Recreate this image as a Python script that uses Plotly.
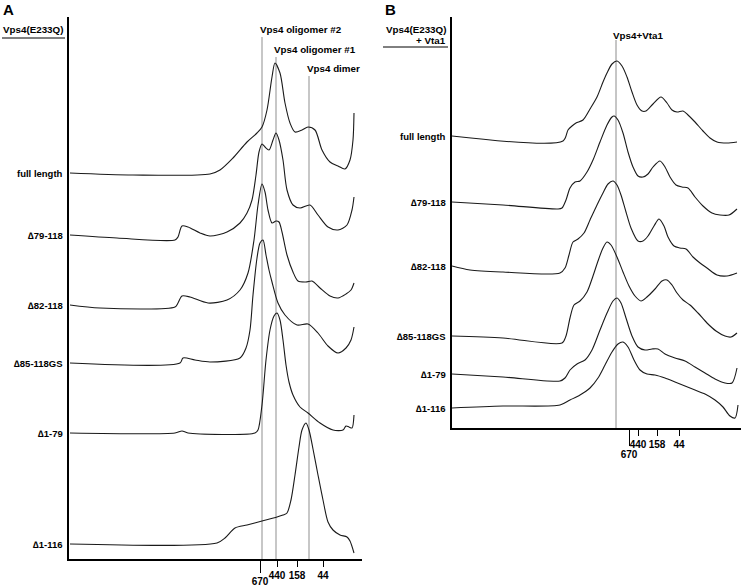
import plotly.graph_objects as go

W, H = 745, 587

# ---------------- Panel A : Vps4(E233Q) ----------------
labels_A = ["full length", "∆79-118", "∆82-118", "∆85-118GS", "∆1-79", "∆1-116"]
offsets_A = [386, 324, 254, 196, 126, 15]   # stacking offset of each trace (a.u.)

vol_A_full = [70, 133, 210, 220, 233, 247, 257, 262, 267, 272, 275, 280, 285, 290, 295, 302, 308, 315, 322, 330, 338, 345, 350, 353, 354]
abs_A_full = [0, -2, -1, 3, 15, 31, 40, 46, 63, 96, 110, 100, 70, 50, 41, 43, 46, 43, 23, 11, 7, 4, 13, 33, 60]

vol_A_79 = [70, 117, 175, 178, 182, 188, 200, 210, 227, 240, 247, 252, 256, 259, 262, 265, 269, 273, 276, 279, 283, 287, 293, 300, 310, 318, 328, 338, 347, 352, 354]
abs_A_79 = [0, -3, -5, -2, 9, 8, 2, -1, 3, 12, 22, 35, 60, 83, 91, 88, 85, 95, 102, 95, 75, 45, 30, 27, 30, 20, 8, 5, 10, 25, 38]

vol_A_82 = [70, 100, 175, 178, 182, 190, 208, 227, 240, 248, 254, 258, 262, 265, 268, 272, 276, 279, 282, 287, 293, 298, 306, 312, 320, 330, 338, 346, 351, 354]
abs_A_82 = [0, -3, -2, 2, 9, 8, 2, 5, 15, 32, 65, 100, 121, 113, 95, 82, 84, 83, 73, 50, 33, 24, 23, 24, 17, 9, 7, 11, 15, 22]

vol_A_85 = [70, 180, 183, 195, 210, 240, 246, 250, 253, 257, 260, 263, 266, 269, 272, 278, 285, 297, 308, 318, 328, 338, 346, 351, 354]
abs_A_85 = [0, 0, 5, 3, 1, 5, 15, 33, 68, 105, 120, 123, 108, 93, 81, 60, 48, 38, 39, 30, 17, 10, 15, 23, 36]

vol_A_1_79 = [70, 175, 182, 188, 255, 258, 262, 266, 270, 274, 277, 280, 283, 286, 289, 293, 300, 308, 320, 333, 343, 346, 349, 352, 354]
abs_A_1_79 = [0, 0, 2, 0, 0, 3, 28, 73, 103, 117, 120, 113, 93, 68, 51, 38, 26, 20, 10, 3, 3, 7, 6, 5, 18]

vol_A_1_116 = [70, 217, 225, 235, 247, 262, 277, 283, 287, 291, 295, 299, 302, 306, 309, 313, 318, 323, 328, 333, 340, 347, 350, 354]
abs_A_1_116 = [0, 1, 6, 16, 19, 23, 27, 29, 31, 44, 69, 97, 114, 121, 114, 95, 69, 44, 22, 14, 9, 7, 3, -9]

traces_A = [(vol_A_full, abs_A_full), (vol_A_79, abs_A_79), (vol_A_82, abs_A_82),
            (vol_A_85, abs_A_85), (vol_A_1_79, abs_A_1_79), (vol_A_1_116, abs_A_1_116)]

std_pos_A = [260, 277, 297, 323]
std_lab = ["670", "440", "158", "44"]
peak_pos_A = [262, 276, 309]
peak_lab_A = ["Vps4 oligomer #2", "Vps4 oligomer #1", "Vps4 dimer"]
peak_top_A = [522, 502, 483]

# ---------------- Panel B : Vps4(E233Q) + Vta1 ----------------
labels_B = ["full length", "∆79-118", "∆82-118", "∆85-118GS", "∆1-79", "∆1-116"]
offsets_B = [292, 226, 162, 92, 54, 20]

vol_B_full = [452, 563, 568, 572, 576, 583, 590, 597, 603, 607, 612, 617, 622, 627, 632, 637, 642, 646, 653, 661, 667, 672, 677, 683, 688, 695, 703, 710, 717, 727, 737]
abs_B_full = [0, -5, 6, 10, 13, 16, 27, 39, 54, 63, 72, 75, 70, 59, 44, 31, 25, 25, 32, 39, 33, 26, 24, 25, 21, 14, 5, -2, -6, -7, -6]

vol_B_79 = [452, 503, 558, 562, 566, 570, 575, 580, 587, 593, 600, 607, 612, 614, 618, 623, 628, 633, 638, 643, 648, 653, 660, 665, 670, 676, 682, 688, 695, 703, 712, 720, 729, 737]
abs_B_79 = [0, -3, -7, -6, 2, 14, 20, 21, 30, 42, 60, 77, 85, 86, 82, 69, 50, 35, 26, 25, 28, 35, 41, 35, 25, 17, 15, 14, 5, -4, -11, -13, -13, -7]

vol_B_82 = [452, 470, 503, 560, 565, 569, 573, 578, 584, 590, 597, 603, 608, 613, 617, 621, 626, 631, 638, 643, 648, 654, 659, 664, 668, 674, 680, 686, 693, 700, 707, 717, 727, 737]
abs_B_82 = [0, -4, -6, -7, -2, 11, 24, 27, 33, 46, 61, 73, 82, 85, 81, 71, 54, 38, 25, 25, 30, 40, 47, 40, 29, 20, 18, 17, 9, 3, -2, -9, -10, -7]

vol_B_85 = [452, 503, 562, 566, 570, 574, 580, 587, 593, 598, 603, 607, 611, 617, 623, 629, 635, 641, 647, 655, 662, 667, 672, 677, 683, 690, 698, 707, 716, 725, 731, 737]
abs_B_85 = [0, -2, -7, 0, 18, 31, 35, 44, 60, 75, 88, 94, 91, 79, 64, 50, 40, 35, 39, 47, 55, 56, 51, 43, 36, 31, 23, 13, 5, 0, -1, 3]

vol_B_1_79 = [452, 503, 560, 565, 570, 577, 585, 592, 600, 607, 613, 617, 621, 626, 632, 638, 645, 652, 658, 665, 675, 685, 695, 705, 715, 725, 732, 737]
abs_B_1_79 = [0, -3, -7, -4, 4, 10, 14, 24, 44, 61, 73, 76, 71, 56, 38, 27, 24, 25, 25, 20, 16, 13, 7, 1, -5, -9, -9, 6]

vol_B_1_116 = [452, 503, 560, 570, 580, 590, 598, 605, 612, 618, 623, 628, 634, 640, 647, 655, 665, 675, 685, 695, 705, 715, 723, 730, 735, 738]
abs_B_1_116 = [0, 2, 3, 8, 13, 20, 30, 43, 56, 64, 66, 61, 48, 38, 34, 33, 30, 26, 22, 18, 14, 8, 1, -8, -10, 3]

traces_B = [(vol_B_full, abs_B_full), (vol_B_79, abs_B_79), (vol_B_82, abs_B_82),
            (vol_B_85, abs_B_85), (vol_B_1_79, abs_B_1_79), (vol_B_1_116, abs_B_1_116)]

std_pos_B = [629, 638, 657, 679]
peak_pos_B = [616]
peak_lab_B = ["Vps4+Vta1"]
peak_top_B = [388]

# ---------------- figure ----------------
def px_x(p):
    return p / W

def px_y(p):
    return 1 - p / H

FONT = "Liberation Sans, Arial, sans-serif"
fig = go.Figure()

for (vx, ay), off in zip(traces_A, offsets_A):
    fig.add_trace(go.Scatter(x=vx, y=[a + off for a in ay], mode="lines",
                             line=dict(color="#1a1a1a", width=1.1, shape="spline", smoothing=0.8),
                             xaxis="x", yaxis="y", showlegend=False, hoverinfo="skip"))
for (vx, ay), off in zip(traces_B, offsets_B):
    fig.add_trace(go.Scatter(x=vx, y=[a + off for a in ay], mode="lines",
                             line=dict(color="#1a1a1a", width=1.1, shape="spline", smoothing=0.8),
                             xaxis="x2", yaxis="y2", showlegend=False, hoverinfo="skip"))
# invisible carriers so that the overlay axes (670 marker ticks) get drawn
fig.add_trace(go.Scatter(x=[std_pos_A[0]], y=[0], mode="markers", marker=dict(opacity=0),
                         xaxis="x3", yaxis="y", showlegend=False, hoverinfo="skip"))
fig.add_trace(go.Scatter(x=[std_pos_B[0]], y=[0], mode="markers", marker=dict(opacity=0),
                         xaxis="x4", yaxis="y2", showlegend=False, hoverinfo="skip"))

domA_x = [px_x(69), px_x(362)]
domA_y = [px_y(559), px_y(17)]
domB_x = [px_x(452), px_x(741)]
domB_y = [px_y(428), px_y(17)]

tickfont = dict(family=FONT, size=10, color="black")
common_y = dict(showline=True, linecolor="black", linewidth=2, showticklabels=False,
                ticks="", showgrid=False, zeroline=False, fixedrange=True)

def xax(dom, rng, anchor, vals, texts, ticklen, overlay=None):
    d = dict(domain=dom, range=rng, anchor=anchor, showgrid=False, zeroline=False,
             tickvals=vals, ticktext=[f"<b>{t}</b>" for t in texts], ticks="outside",
             ticklen=ticklen, tickwidth=1, tickcolor="black", tickfont=tickfont, tickangle=0)
    if overlay:
        d.update(overlaying=overlay, side="bottom", showline=False)
    else:
        d.update(showline=True, linecolor="black", linewidth=2)
    return d

fig.update_layout(
    width=W, height=H, margin=dict(l=0, r=0, t=0, b=0, autoexpand=False),
    paper_bgcolor="white", plot_bgcolor="rgba(0,0,0,0)",
    xaxis=xax(domA_x, [69, 362], "y", std_pos_A[1:], std_lab[1:], 6),
    xaxis3=xax(domA_x, [69, 362], "y", std_pos_A[:1], std_lab[:1], 13, overlay="x"),
    yaxis=dict(domain=domA_y, range=[0, 542], anchor="x", **common_y),
    xaxis2=xax(domB_x, [452, 741], "y2", std_pos_B[1:], std_lab[1:], 6),
    xaxis4=xax(domB_x, [452, 741], "y2", std_pos_B[:1], std_lab[:1], 17, overlay="x2"),
    yaxis2=dict(domain=domB_y, range=[0, 411], anchor="x2", **common_y),
)

shapes = []
for p, top in zip(peak_pos_A, peak_top_A):
    shapes.append(dict(type="line", xref="x", yref="y", x0=p, x1=p, y0=0, y1=top,
                       line=dict(color="#b4b4b4", width=1.5), layer="below"))
for p, top in zip(peak_pos_B, peak_top_B):
    shapes.append(dict(type="line", xref="x2", yref="y2", x0=p, x1=p, y0=0, y1=top,
                       line=dict(color="#8c8c8c", width=1), layer="below"))
# underlines of the panel titles
shapes.append(dict(type="line", xref="paper", yref="paper", x0=px_x(2), x1=px_x(65),
                   y0=px_y(38), y1=px_y(38), line=dict(color="black", width=1)))
shapes.append(dict(type="line", xref="paper", yref="paper", x0=px_x(383), x1=px_x(448),
                   y0=px_y(47), y1=px_y(47), line=dict(color="black", width=1)))

ann = []
def label(text, x, y, xref="paper", yref="paper", xanchor="left", yanchor="middle", size=10):
    ann.append(dict(text=text, x=x, y=y, xref=xref, yref=yref, xanchor=xanchor, yanchor=yanchor,
                    showarrow=False, font=dict(family=FONT, size=size, color="black")))

label("<b>A</b>", px_x(1), px_y(-1), yanchor="top", size=15)
label("<b>B</b>", px_x(383), px_y(-1), yanchor="top", size=15)
label("<b>Vps4(E233Q)</b>", px_x(65), px_y(29), xanchor="right", size=9.8)
label("<b>Vps4(E233Q)</b>", px_x(448), px_y(29), xanchor="right", size=9.8)
label("<b>+ Vta1</b>", px_x(448), px_y(41), xanchor="right", size=9.8)

for t, off in zip(labels_A, offsets_A):
    label(f"<b>{t}</b>", px_x(65), off, yref="y", xanchor="right", size=9.5)
for t, off in zip(labels_B, offsets_B):
    label(f"<b>{t}</b>", px_x(448), off, yref="y2", xanchor="right", size=9.5)

for p, t, top in zip(peak_pos_A, peak_lab_A, peak_top_A):
    label(f"<b>{t}</b>", p - 4, top + 8, xref="x", yref="y", xanchor="left", size=9.8)
for p, t, top in zip(peak_pos_B, peak_lab_B, peak_top_B):
    label(f"<b>{t}</b>", p - 5, top + 5, xref="x2", yref="y2", xanchor="left", size=9.8)

fig.update_layout(shapes=shapes, annotations=ann)
fig.write_html("out.html", config={"displayModeBar": False},
               post_script="document.body.style.margin='0';document.body.style.overflow='hidden';")
